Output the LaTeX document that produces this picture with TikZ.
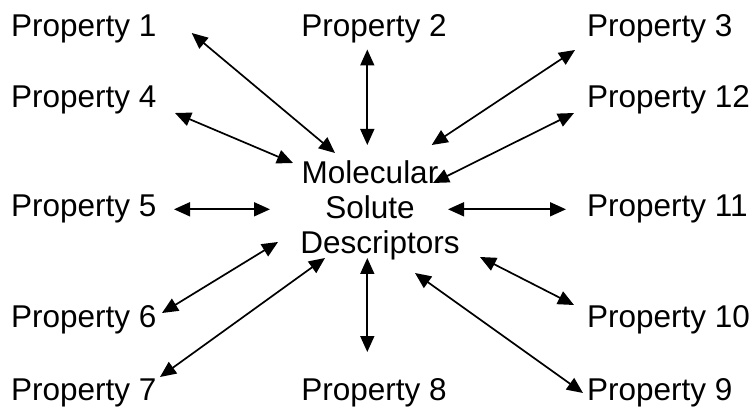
\documentclass[tikz,border=0pt]{standalone}
\usepackage{fontspec}
\setmainfont{Liberation Sans}
\usetikzlibrary{arrows.meta}
\tikzset{
  prop/.style={inner sep=0pt, font=\fontsize{31.5}{35}\selectfont},
  conn/.style={line width=1.7pt, {Triangle[length=16pt,width=14pt]}-{Triangle[length=16pt,width=14pt]}}
}
\begin{document}
\begin{tikzpicture}[x=1pt,y=-1pt]
\useasboundingbox (0,0) rectangle (756,409);
% property labels
\node[prop, anchor=base west] (p1) at (11,36.7) {Property 1};
\node[prop, anchor=base] (p2) at (374,36.7) {Property 2};
\node[prop, anchor=base west] (p3) at (587,36.7) {Property 3};
\node[prop, anchor=base west] (p4) at (11,107.5) {Property 4};
\node[prop, anchor=base west] (p12) at (587,107.5) {Property 12};
\node[prop, anchor=base west] (p5) at (11,216.7) {Property 5};
\node[prop, anchor=base west] (p11) at (587,216.7) {Property 11};
\node[prop, anchor=base west] (p6) at (11,327) {Property 6};
\node[prop, anchor=base west] (p10) at (587,327) {Property 10};
\node[prop, anchor=base west] (p7) at (11,400) {Property 7};
\node[prop, anchor=base] (p8) at (374,400) {Property 8};
\node[prop, anchor=base west] (p9) at (587,400) {Property 9};
% centre
\node[prop, align=center, anchor=center] (mol) at (370,210) {Molecular\\Solute\\\rule{20pt}{0pt}Descriptors};
% connector end points
\coordinate (a1) at (191.7,33);   \coordinate (b1) at (335,153);
\coordinate (a2) at (367.3,49.5); \coordinate (b2) at (367.3,145);
\coordinate (a3) at (575,50);     \coordinate (b3) at (431.7,145);
\coordinate (a4) at (175,113);    \coordinate (b4) at (293,163);
\coordinate (a5) at (174,209.3);  \coordinate (b5) at (270,209.3);
\coordinate (a6) at (162,313);    \coordinate (b6) at (278,242);
\coordinate (a7) at (160,377);    \coordinate (b7) at (325,258);
\coordinate (a8) at (367.3,352);  \coordinate (b8) at (367.3,258);
\coordinate (a9) at (583,393);    \coordinate (b9) at (415,273);
\coordinate (a10) at (574,305);   \coordinate (b10) at (480,257);
\coordinate (a11) at (566,209.3); \coordinate (b11) at (448,209.3);
\coordinate (a12) at (574,113);   \coordinate (b12) at (433,183);
\foreach \i in {1,...,12} \draw[conn] (a\i) -- (b\i);
\end{tikzpicture}
\end{document}
